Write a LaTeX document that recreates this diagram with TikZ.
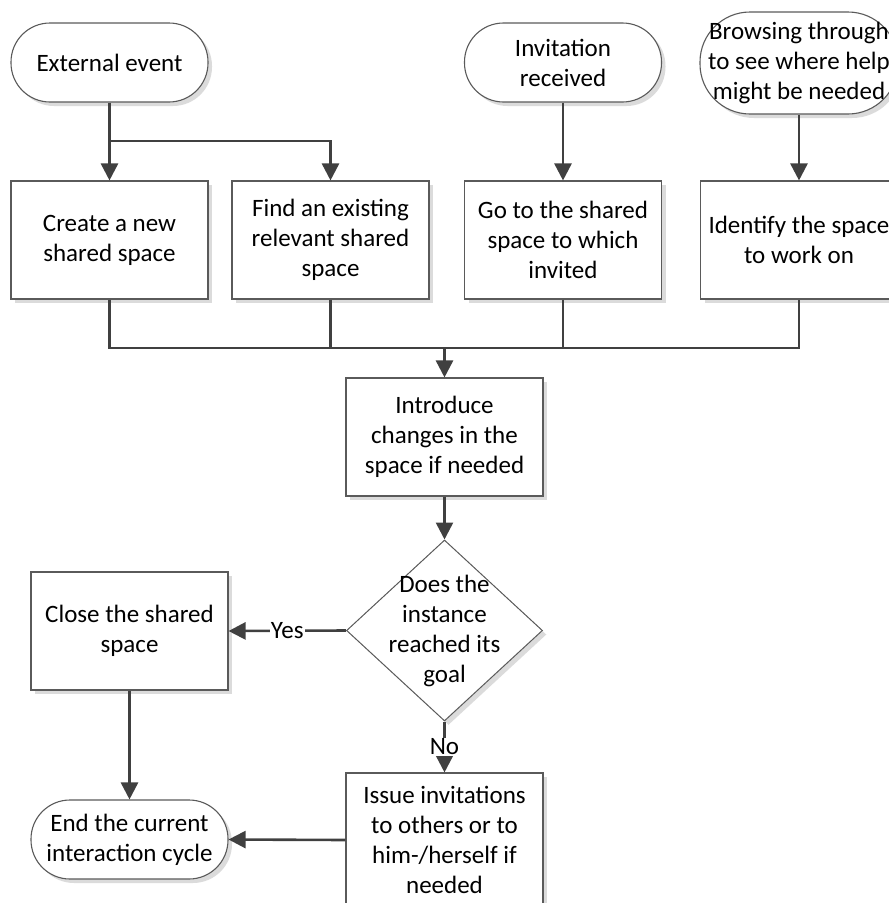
\documentclass[tikz,border=0pt]{standalone}
\usepackage{fontspec}
\setmainfont{Carlito}
\usetikzlibrary{arrows.meta,shapes.geometric,shadows}
\definecolor{wire}{HTML}{404040}
\definecolor{rim}{HTML}{5A5A5A}
\begin{document}
\begin{tikzpicture}[x=1pt,y=-1pt,
  every node/.style={font=\fontsize{25}{30}\selectfont, align=center, inner sep=0pt, text=black},
  softshadow/.style={drop shadow={shadow xshift=4pt, shadow yshift=-4pt, fill=black!14, opacity=1}},
  procbox/.style={draw=rim, line width=1.1pt, fill=white, minimum width=197pt, minimum height=118pt, softshadow},
  termbox/.style={draw=rim, line width=1.1pt, fill=white, rounded corners=39pt, minimum width=197pt, minimum height=79pt, softshadow},
  flow/.style={draw=wire, line width=2.6pt, -{Triangle[length=17pt,width=17pt]}},
  link/.style={draw=wire, line width=2.6pt},
  tag/.style={fill=white, inner sep=1pt}
]
\useasboundingbox (0,0) rectangle (889,903);

% start events
\node[termbox] (ee) at (109.5,62.5) {External event};
\node[termbox] (inv) at (563,62.5) {Invitation\\received};
\node[draw=rim, line width=1.1pt, fill=white, rounded corners=50pt, minimum width=198pt, minimum height=102pt, softshadow] (browse) at (799,63) {};
\node (browsetext) at (browse.center) {Browsing through\\to see where help\\might be needed};

% first row of actions
\node[procbox] (create) at (109.5,240) {Create a new\\shared space};
\node[procbox] (find) at (330.5,240) {Find an existing\\relevant shared\\space};
\node[procbox] (goto) at (563,240) {Go to the shared\\space to which\\invited};
\node[procbox] (ident) at (799,240) {};
\node (identtext) at (ident.center) {Identify the space\\to work on};

% common path
\node[procbox] (intro) at (444.5,437) {Introduce\\changes in the\\space if needed};
\node[draw=rim, line width=1pt, fill=white, diamond, aspect=1.083, minimum width=196pt, minimum height=181pt, softshadow] (dec) at (444.5,630.5) {};
\node (dectext) at (dec.center) {Does the\\instance\\reached its\\goal};

\node[procbox] (close) at (129.5,631) {Close the shared\\space};
\node[procbox, minimum height=134pt] (issue) at (444.5,840) {Issue invitations\\to others or to\\him-/herself if\\needed};
\node[termbox] (endc) at (129.5,839.5) {End the current\\interaction cycle};

% connectors
\coordinate (split) at (109.5,141);
\coordinate (join) at (444.5,348);
\draw[flow] (ee.south) -- (create.north);
\draw[flow] (split) -| (find.north);
\draw[flow] (inv.south) -- (goto.north);
\draw[flow] (browse.south) -- (ident.north);

\draw[link] (create.south) |- (join) -| (ident.south);
\draw[link] (find.south) -- (find.south |- join);
\draw[link] (goto.south) -- (goto.south |- join);
\draw[flow] (join) -- (intro.north);

\draw[flow] (intro.south) -- (dec.north);
\draw[flow] (dec.west) -- node[tag] {Yes} (close.east);
\draw[flow] (dec.south) -- node[tag] {No} (issue.north);
\draw[flow] (close.south) -- (endc.north);
\draw[flow] (issue.west) -- (endc.east);
\end{tikzpicture}
\end{document}
